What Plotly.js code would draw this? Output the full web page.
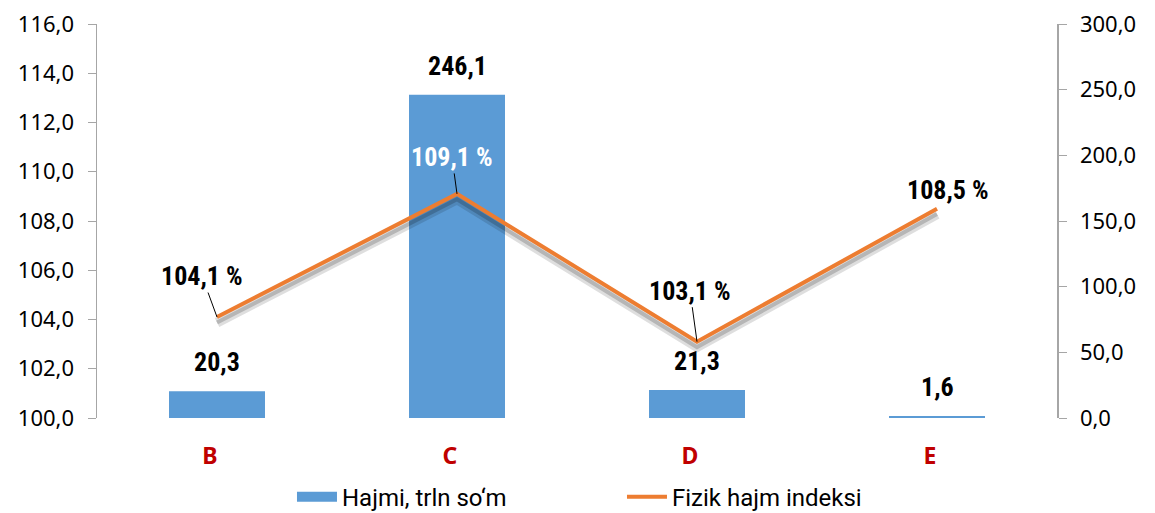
<!DOCTYPE html>
<html><head><meta charset="utf-8">
<script src="https://cdn.plot.ly/plotly-3.0.1.min.js"></script>
<style>html,body{margin:0;padding:0;background:#fff}#c{width:1155px;height:513px}</style>
</head><body><div id="c"></div>
<script>
const categories = ['B', 'C', 'D', 'E'];
const volume = [20.3, 246.1, 21.3, 1.6];          // Hajmi, trln so'm (right axis)
const index = [104.1, 109.1, 103.1, 108.5];        // Fizik hajm indeksi, % (left axis)
const volumeName = 'Hajmi, trln so‘m';
const indexName = 'Fizik hajm indeksi';

const fmt = v => v.toFixed(1).replace('.', ',');
const condensed = 'Liberation Sans Narrow, Roboto Condensed, Roboto, sans-serif';
const tickFont = {family: 'Noto Sans, sans-serif', size: 22, color: '#000'};
const barColor = '#5B9BD5';

const traces = [
  {type: 'bar', name: volumeName, x: categories, y: volume, yaxis: 'y', showlegend: false,
   legendgroup: 'vol', marker: {color: barColor}, width: 0.4, hoverinfo: 'x+y'},
  // legend key for the bars (wide rectangle, as in the reference)
  {type: 'scatter', mode: 'lines', name: volumeName, x: categories, y: categories.map(() => null),
   yaxis: 'y', legendgroup: 'vol', line: {color: barColor, width: 14}, hoverinfo: 'skip'},
  {type: 'scatter', mode: 'lines', x: categories, y: index, yaxis: 'y2', showlegend: false,
   line: {color: 'rgba(0,0,0,0.13)', width: 10}, hoverinfo: 'skip'},
  {type: 'scatter', mode: 'lines', x: categories, y: index, yaxis: 'y2', showlegend: false,
   line: {color: 'rgba(0,0,0,0.18)', width: 4}, hoverinfo: 'skip'},
  {type: 'scatter', mode: 'lines', name: indexName, x: categories, y: index, yaxis: 'y3',
   line: {color: '#ED7D31', width: 4}}
];

// label offsets (pixels) for the index labels
const idxOffsets = [[-15, -41, '#000', true], [-5, -37, '#fff', true], [-7, -51, '#000', true], [11, -19, '#000', false]];

const annotations = [];
categories.forEach((c, i) => {
  annotations.push({x: c, y: volume[i], xref: 'x', yref: 'y', text: fmt(volume[i]),
    showarrow: false, yanchor: 'bottom', yshift: 12,
    font: {family: condensed, size: 26, color: '#000', weight: 700}});
  const o = idxOffsets[i];
  if (o[3]) {
    annotations.push({x: c, y: index[i], xref: 'x', yref: 'y3', text: fmt(index[i]) + ' %',
      showarrow: true, arrowhead: 0, arrowwidth: 1, arrowcolor: '#000', ax: o[0], ay: o[1],
      standoff: 0, font: {family: condensed, size: 26, color: o[2], weight: 700}});
  } else {
    annotations.push({x: c, y: index[i], xref: 'x', yref: 'y3', text: fmt(index[i]) + ' %',
      showarrow: false, xshift: o[0], yshift: -o[1],
      font: {family: condensed, size: 26, color: o[2], weight: 700}});
  }
});

const layout = {
  width: 1155, height: 513,
  margin: {l: 97, r: 98, t: 24, b: 95, autoexpand: false},
  paper_bgcolor: '#fff', plot_bgcolor: '#fff',
  separators: ', ',
  showlegend: true,
  legend: {orientation: 'h', xref: 'container', x: 0.2528, xanchor: 'left',
    yref: 'container', y: 0.031, yanchor: 'middle', traceorder: 'normal',
    font: {family: 'Roboto, sans-serif', size: 24, color: '#000'}, entrywidth: 275, itemwidth: 40},
  xaxis: {type: 'category', range: [-0.5, 3.5], showline: false, ticks: '', showgrid: false, zeroline: false,
    tickfont: {family: 'Noto Sans, sans-serif', size: 23, color: '#C00000', weight: 700},
    ticklabelstandoff: 22, ticklabelshift: -7},
  yaxis: {side: 'right', range: [0, 300], dtick: 50, tickformat: '.1f', showgrid: false, zeroline: false,
    showline: true, linecolor: '#A6A6A6', linewidth: 1.5, ticks: 'outside', ticklen: 8, tickcolor: '#A6A6A6',
    tickfont: tickFont, ticklabelstandoff: 9},
  yaxis2: {overlaying: 'y', range: [100.22, 116.22], visible: false, showgrid: false, zeroline: false},
  yaxis3: {overlaying: 'y', side: 'left', range: [100, 116], dtick: 2, tickformat: '.1f', showgrid: false,
    zeroline: false, showline: true, linecolor: '#A6A6A6', linewidth: 1.5, ticks: 'outside', ticklen: 8,
    tickcolor: '#A6A6A6', tickfont: tickFont, ticklabelstandoff: 9},
  annotations: annotations
};

Plotly.newPlot('c', traces, layout, {displayModeBar: false, staticPlot: true});
</script></body></html>
